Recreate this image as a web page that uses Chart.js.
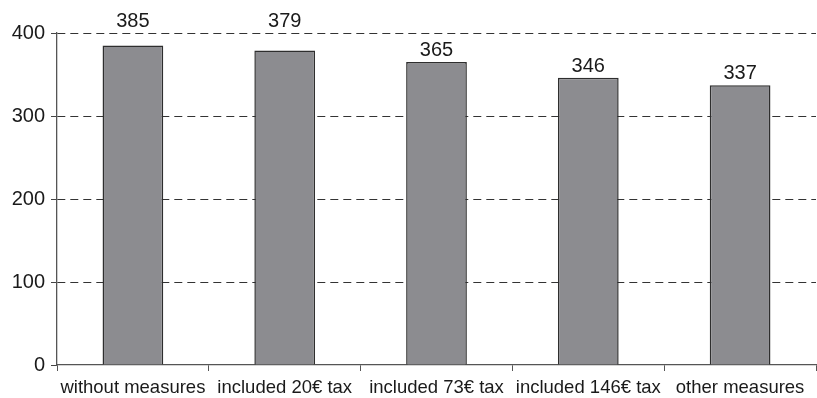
<!DOCTYPE html>
<html>
<head>
<meta charset="utf-8">
<script src="https://cdn.jsdelivr.net/npm/chart.js@4.4.1/dist/chart.umd.min.js"></script>
<style>
  html, body { margin: 0; padding: 0; background: #fff; }
  #wrap { width: 817px; height: 398px; position: relative; }
</style>
</head>
<body>
<div id="wrap"><canvas id="c" width="817" height="398"></canvas></div>
<script>
// Scenario categories and their values
const categories = ['without measures', 'included 20€ tax', 'included 73€ tax', 'included 146€ tax', 'other measures'];
const values = [385, 379, 365, 346, 337];
const yTicks = [0, 100, 200, 300, 400];

const FONT = '"Liberation Sans", Arial, Helvetica, sans-serif';

// Value labels above each bar; lifted above the top gridline if they would cross it
const valueLabels = {
  id: 'valueLabels',
  afterDatasetsDraw(chart) {
    const ctx = chart.ctx;
    const yScale = chart.scales.y;
    const topLine = yScale.getPixelForValue(yTicks[yTicks.length - 1]);
    const meta = chart.getDatasetMeta(0);
    ctx.save();
    ctx.font = '20px ' + FONT;
    ctx.fillStyle = '#1a1a1a';
    ctx.textAlign = 'center';
    ctx.textBaseline = 'alphabetic';
    meta.data.forEach((bar, i) => {
      let base = bar.y - 6;
      const textTop = base - 15;
      if (textTop < topLine + 2 && base > topLine - 2) {
        base = topLine - 6;
      }
      ctx.fillText(String(values[i]), bar.x, base);
    });
    ctx.restore();
  }
};

new Chart(document.getElementById('c'), {
  type: 'bar',
  data: {
    labels: categories,
    datasets: [{
      data: values,
      backgroundColor: '#8c8c90',
      borderColor: '#2e2e2e',
      borderWidth: 1.5,
      barPercentage: 0.8,
      categoryPercentage: 0.5
    }]
  },
  options: {
    responsive: false,
    animation: false,
    devicePixelRatio: 1,
    layout: { padding: { top: 33, right: 1, left: 0, bottom: 0 } },
    plugins: {
      legend: { display: false },
      tooltip: { enabled: false }
    },
    scales: {
      x: {
        offset: true,
        grid: {
          display: true,
          drawOnChartArea: false,
          drawTicks: true,
          tickLength: 6,
          offset: true,
          color: '#555555',
          tickColor: '#555555'
        },
        border: { display: true, color: '#555555', width: 1.3 },
        ticks: {
          color: '#1a1a1a',
          font: { family: FONT, size: 18.5 },
          padding: 6,
          maxRotation: 0,
          autoSkip: false
        },
        afterFit(scale) {
          scale.height = 33;
          scale.paddingLeft = 0;
          scale.paddingRight = 0;
        }
      },
      y: {
        min: 0,
        max: 400,
        afterBuildTicks(scale) {
          scale.ticks = yTicks.map(v => ({ value: v }));
        },
        grid: {
          // the zero line is the solid x-axis, so no dashed line on top of it
          color: (ctx) => (ctx.tick && ctx.tick.value === 0 ? 'rgba(0,0,0,0)' : '#333333'),
          lineWidth: 1,
          tickBorderDash: [],
          tickLength: 6,
          tickColor: '#444444'
        },
        border: { display: true, color: '#555555', width: 1.3, dash: [8, 5] },
        ticks: {
          color: '#1a1a1a',
          font: { family: FONT, size: 20 },
          padding: 6
        },
        afterFit(scale) {
          scale.width = 57;
        }
      }
    }
  },
  plugins: [valueLabels]
});
</script>
</body>
</html>
